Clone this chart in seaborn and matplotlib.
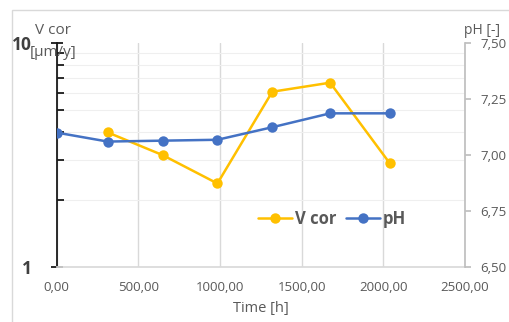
import matplotlib
matplotlib.use("Agg")
import matplotlib.pyplot as plt
import matplotlib.ticker as mticker
from matplotlib.patches import Rectangle
import seaborn as sns
import pandas as pd
import numpy as np

time_h = [0, 312, 648, 984, 1320, 1674, 2040]
ph_values = [7.10, 7.06, 7.064, 7.068, 7.124, 7.186, 7.186]
vcor_time = [312, 648, 984, 1320, 1674, 2040]
vcor_values = [3.99, 3.16, 2.36, 6.06, 6.65, 2.90]
x_ticks = [0, 500, 1000, 1500, 2000, 2500]
ph_ticks = [6.50, 6.75, 7.00, 7.25, 7.50]

sns.set_theme(style="white")
plt.rcParams['font.family'] = ['Open Sans', 'DejaVu Sans']

W, H = 509, 322
fig = plt.figure(figsize=(W / 100, H / 100), dpi=100)
x0, x1, y0, y1 = 56.7, 465, 43, 267
ax = fig.add_axes([x0 / W, 1 - y1 / H, (x1 - x0) / W, (y1 - y0) / H])
ax2 = ax.twinx()

yellow = "#FFC000"
blue = "#4472C4"
gray = "#595959"

df_v = pd.DataFrame({"t": vcor_time, "v": vcor_values})
df_p = pd.DataFrame({"t": time_h, "p": ph_values})

sns.lineplot(data=df_v, x="t", y="v", ax=ax, color=yellow, marker="o",
             markersize=7.5, markeredgewidth=0, linewidth=1.8, label="V cor", legend=False)
sns.lineplot(data=df_p, x="t", y="p", ax=ax2, color=blue, marker="o",
             markersize=7.5, markeredgewidth=0, linewidth=1.8, label="pH", legend=False)

ax.set_yscale("log")
ax.set_ylim(1, 10)
ax.set_xlim(0, 2500)
ax.set_xticks(x_ticks)
ax.xaxis.set_major_formatter(mticker.FuncFormatter(lambda v, p: f"{v:.2f}".replace(".", ",")))
ax.yaxis.set_major_locator(mticker.FixedLocator([1, 10]))
ax.yaxis.set_major_formatter(mticker.FixedFormatter(["1", "10"]))
ax.yaxis.set_minor_locator(mticker.LogLocator(base=10, subs=np.arange(2, 10)))
ax.yaxis.set_minor_formatter(mticker.NullFormatter())
ax.set_xlabel("Time [h]", color=gray, fontsize=10.5, labelpad=5)
ax.set_ylabel("")

ax.grid(True, axis="x", color="#D9D9D9", linewidth=1)
ax.grid(True, axis="y", which="minor", color="#EFEFEF", linewidth=0.8)
ax.set_axisbelow(True)

for s in ["top", "right"]:
    ax.spines[s].set_visible(False)
ax.spines["bottom"].set_color("#D9D9D9")
ax.spines["left"].set_color("#1a1a1a")
ax.spines["left"].set_linewidth(1.3)

ax.tick_params(axis="x", length=0, labelsize=9.5, labelcolor=gray, pad=10)
ax.tick_params(axis="y", which="major", direction="inout", length=8, width=1.3,
               color="#1a1a1a", labelsize=12.5, labelcolor="#404040", pad=14)
ax.tick_params(axis="y", which="minor", direction="in", length=5, width=1.3, color="#1a1a1a")
for lbl in ax.get_yticklabels():
    lbl.set_fontweight("bold")

ax2.set_ylim(6.5, 7.5)
ax2.set_yticks(ph_ticks)
ax2.yaxis.set_major_formatter(mticker.FuncFormatter(lambda v, p: f"{v:.2f}".replace(".", ",")))
ax2.set_ylabel("")
for s in ["top", "left", "bottom"]:
    ax2.spines[s].set_visible(False)
ax2.spines["right"].set_color("#BFBFBF")
ax2.tick_params(axis="y", direction="out", length=4, color="#BFBFBF",
                labelsize=9.5, labelcolor=gray, pad=7)
ax2.grid(False)

fig.text(35 / W, 1 - 30 / H, "V cor", color=gray, fontsize=11, va="center", ha="left")
fig.text(30 / W, 1 - 52 / H, "[µm/y]", color=gray, fontsize=11, va="center", ha="left")
fig.text(464 / W, 1 - 31 / H, "pH [-]", color=gray, fontsize=10, va="center", ha="left")

h1, l1 = ax.get_legend_handles_labels()
h2, l2 = ax2.get_legend_handles_labels()
leg = ax2.legend(h1 + h2, l1 + l2, loc="center", bbox_to_anchor=(0.675, 0.215),
                 ncol=2, frameon=False, prop={"size": 12, "weight": "bold"},
                 handlelength=2.0, columnspacing=0.6, handletextpad=0.2, borderaxespad=0)
for t in leg.get_texts():
    t.set_color(gray)

fig.patches.append(Rectangle((12 / W, -0.1), 1.2, (1 - 10 / H) + 0.1, transform=fig.transFigure,
                             fill=False, edgecolor="#D9D9D9", linewidth=1, zorder=-1))

fig.savefig("out.png", dpi=100)
